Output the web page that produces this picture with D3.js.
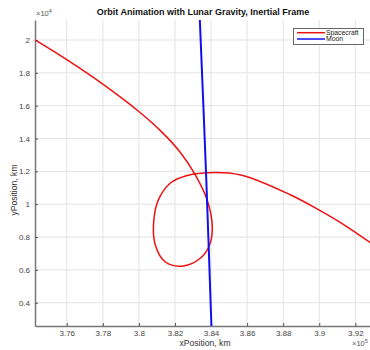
<!DOCTYPE html>
<html>
<head>
<meta charset="utf-8">
<script src="https://cdn.jsdelivr.net/npm/d3@7"></script>
<style>
  body { margin: 0; background: #fff; }
  text { font-family: "Liberation Sans", Arial, sans-serif; }
  .grid line { stroke: #e3e3e3; stroke-width: 1; }
  .tick text { fill: #444; font-size: 8px; }
</style>
</head>
<body>
<svg id="chart" width="370" height="350"></svg>
<script>
// dane orbity (x w 1e5 km, y w 1e4 km)
const scX = [3.7424, 3.76, 3.7804, 3.7998, 3.8125, 3.823, 3.8308, 3.8379, 3.8407, 3.8392, 3.8342,
             3.8247, 3.8147, 3.8091, 3.8082, 3.8108, 3.8175, 3.8258, 3.8381, 3.8565, 3.8842,
             3.8998, 3.9148, 3.9310];
const scY = [2.0, 1.880, 1.728, 1.566, 1.442, 1.315, 1.187, 1.024, 0.861, 0.752, 0.672,
             0.624, 0.648, 0.752, 0.892, 1.026, 1.129, 1.172, 1.192, 1.178, 1.056,
             0.965, 0.867, 0.745];
// ksiezyc
const moonX = [3.8335, 3.8372, 3.8404];
const moonY = [2.20, 1.20, 0.20];

const xTicks = [3.76, 3.78, 3.80, 3.82, 3.84, 3.86, 3.88, 3.90, 3.92];
const yTicks = [0.4, 0.6, 0.8, 1.0, 1.2, 1.4, 1.6, 1.8, 2.0];
const seriesNames = ["Spacecraft", "Moon"];
const seriesColors = ["#ee1111", "#1010ee"];

const svg = d3.select("#chart");
const mLeft = 35, mRight = 373, mTop = 20, mBottom = 326;

const x = d3.scaleLinear().domain([3.7424, 3.9298]).range([mLeft, mRight]);
const y = d3.scaleLinear().domain([0.2581, 2.1218]).range([mBottom, mTop]);

// siatka
const grid = svg.append("g").attr("class", "grid");
grid.selectAll("line.gx").data(xTicks).enter().append("line")
  .attr("x1", d => x(d)).attr("x2", d => x(d))
  .attr("y1", mTop).attr("y2", mBottom);
grid.selectAll("line.gy").data(yTicks).enter().append("line")
  .attr("x1", mLeft).attr("x2", mRight)
  .attr("y1", d => y(d)).attr("y2", d => y(d));

// osie
const fmt = d => String(+d.toFixed(2));
const xAxis = svg.append("g").attr("transform", `translate(0,${mBottom})`)
  .call(d3.axisBottom(x).tickValues(xTicks).tickFormat(fmt).tickSizeInner(-3).tickSizeOuter(0).tickPadding(4));
const yAxis = svg.append("g").attr("transform", `translate(${mLeft},0)`)
  .call(d3.axisLeft(y).tickValues(yTicks).tickFormat(fmt).tickSizeInner(-3).tickSizeOuter(0).tickPadding(5));
[xAxis, yAxis].forEach(a => {
  a.select(".domain").attr("stroke", "#777").attr("stroke-width", 1.5);
  a.selectAll(".tick line").attr("stroke", "#555");
});

// przyciecie
svg.append("clipPath").attr("id", "clip").append("rect")
  .attr("x", mLeft).attr("y", mTop).attr("width", mRight - mLeft).attr("height", mBottom - mTop);

const line = d3.line().x(d => x(d[0])).y(d => y(d[1])).curve(d3.curveCatmullRom);
const plot = svg.append("g").attr("clip-path", "url(#clip)");

plot.append("path")
  .datum(scX.map((v, i) => [v, scY[i]]))
  .attr("d", line)
  .attr("fill", "none")
  .attr("stroke", seriesColors[0])
  .attr("stroke-width", 1.5);

plot.append("path")
  .datum(moonX.map((v, i) => [v, moonY[i]]))
  .attr("d", line)
  .attr("fill", "none")
  .attr("stroke", seriesColors[1])
  .attr("stroke-width", 2);

// tytul i etykiety
svg.append("text").attr("x", 203).attr("y", 15).attr("text-anchor", "middle")
  .attr("font-size", 9).attr("font-weight", "bold").attr("fill", "#111")
  .text("Orbit Animation with Lunar Gravity, Inertial Frame");
svg.append("text").attr("x", 205).attr("y", 346).attr("text-anchor", "middle")
  .attr("font-size", 8.6).attr("fill", "#333").text("xPosition, km");
svg.append("text").attr("transform", "translate(17,190) rotate(-90)").attr("text-anchor", "middle")
  .attr("font-size", 8.6).attr("fill", "#333").text("yPosition, km");

const exp4 = svg.append("text").attr("x", 36).attr("y", 16).attr("font-size", 7.5).attr("fill", "#555");
exp4.append("tspan").text("×10");
exp4.append("tspan").attr("dy", -3).attr("font-size", 5.5).text("4");
const exp5 = svg.append("text").attr("x", 352).attr("y", 346).attr("font-size", 7.5).attr("fill", "#555");
exp5.append("tspan").text("×10");
exp5.append("tspan").attr("dy", -3).attr("font-size", 5.5).text("5");

// legenda
const leg = svg.append("g");
leg.append("rect").attr("x", 293.5).attr("y", 28.5).attr("width", 70).attr("height", 16)
  .attr("fill", "#fff").attr("stroke", "#666").attr("stroke-width", 1);
seriesNames.forEach((n, i) => {
  const yy = 32.7 + i * 6.3;
  leg.append("line").attr("x1", 297).attr("x2", 325).attr("y1", yy).attr("y2", yy)
    .attr("stroke", seriesColors[i]).attr("stroke-width", 1.5);
  leg.append("text").attr("x", 326).attr("y", yy + 1.8).attr("font-size", 6.8).attr("fill", "#222").text(n);
});
</script>
</body>
</html>
